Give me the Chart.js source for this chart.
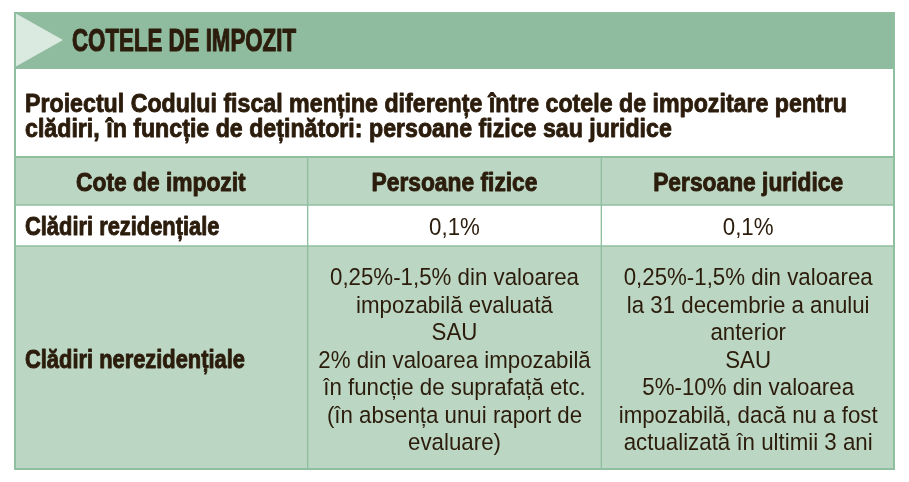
<!DOCTYPE html>
<html>
<head>
<meta charset="utf-8">
<script src="https://cdn.jsdelivr.net/npm/chart.js@4.4.1/dist/chart.umd.min.js"></script>
<style>
html,body{margin:0;padding:0;background:#ffffff;}
#wrap{width:909px;height:482px;position:relative;}
</style>
</head>
<body>
<div id="wrap"><canvas id="c" width="909" height="482"></canvas></div>
<script>
// ---- data ----
const title = 'COTELE DE IMPOZIT';
const subtitleLines = [
  'Proiectul Codului fiscal menține diferențe între cotele de impozitare pentru',
  'clădiri, în funcție de deținători: persoane fizice sau juridice'
];
const columns = ['Cote de impozit', 'Persoane fizice', 'Persoane juridice'];
const rowLabels = ['Clădiri rezidențiale', 'Clădiri nerezidențiale'];
const residentialRates = ['0,1%', '0,1%'];
const nonResidentialFizice = [
  '0,25%-1,5% din valoarea',
  'impozabilă evaluată',
  'SAU',
  '2% din valoarea impozabilă',
  'în funcție de suprafață etc.',
  '(în absența unui raport de',
  'evaluare)'
];
const nonResidentialJuridice = [
  '0,25%-1,5% din valoarea',
  'la 31 decembrie a anului',
  'anterior',
  'SAU',
  '5%-10% din valoarea',
  'impozabilă, dacă nu a fost',
  'actualizată în ultimii 3 ani'
];

// ---- layout / style ----
const ROW_SPAN = [48, 41, 224];           // table row extents (y-scale units)
const C_BAND = '#8fbb9f';
const C_LIGHT = '#bbd6c2';
const C_LINE = '#8fbf9f';
const C_TRI = '#dbeae1';
const C_TEXT = '#2b1c0c';
const FAM = "'Liberation Sans','Arimo','Helvetica',Arial,sans-serif";
const LINE_H = 27.5;
const BASE_OFF = 9.5;

const ctxMeasure = document.createElement('canvas').getContext('2d');
function scaleFor(font, ref, target) {
  ctxMeasure.font = font;
  return target / ctxMeasure.measureText(ref).width;
}
const STY = {
  title:  {font: 'bold 31px ' + FAM, stroke: 1.1},
  sub:    {font: 'bold 26.5px ' + FAM, stroke: 0.9},
  head:   {font: 'bold 25px ' + FAM, stroke: 0.9},
  label:  {font: 'bold 25px ' + FAM, stroke: 0.9},
  body:   {font: '24.5px ' + FAM, stroke: 0}
};
STY.title.sx = scaleFor(STY.title.font, title, 224);
STY.sub.sx = scaleFor(STY.sub.font, subtitleLines[0], 822);
STY.head.sx = scaleFor(STY.head.font, columns[2], 190);
STY.label.sx = scaleFor(STY.label.font, rowLabels[1], 220);
STY.body.sx = scaleFor(STY.body.font, nonResidentialJuridice[0], 249);

function drawText(ctx, str, x, y, sty, align) {
  ctx.save();
  ctx.font = sty.font;
  ctx.fillStyle = C_TEXT;
  const w = ctx.measureText(str).width * sty.sx;
  const x0 = align === 'center' ? x - w / 2 : x;
  ctx.translate(x0, y);
  ctx.scale(sty.sx, 1);
  ctx.textAlign = 'left';
  ctx.textBaseline = 'alphabetic';
  ctx.fillText(str, 0, 0);
  if (sty.stroke) {
    ctx.strokeStyle = C_TEXT;
    ctx.lineWidth = sty.stroke;
    ctx.lineJoin = 'round';
    ctx.strokeText(str, 0, 0);
  }
  ctx.restore();
}

const cellText = [
  columns.map(c => [c]),
  [[rowLabels[0]], [residentialRates[0]], [residentialRates[1]]],
  [[rowLabels[1]], nonResidentialFizice, nonResidentialJuridice]
];
const rowFill = [C_LIGHT, '#ffffff', C_LIGHT];

const tablePlugin = {
  id: 'tablePlugin',
  beforeDatasetsDraw(chart) {
    const ctx = chart.ctx;
    const a = chart.chartArea;
    const top = 12;
    ctx.save();
    ctx.fillStyle = C_BAND;
    ctx.fillRect(a.left, top, a.right - a.left, 57);
    ctx.fillStyle = C_TRI;
    ctx.beginPath();
    ctx.moveTo(a.left + 1, top + 1);
    ctx.lineTo(a.left + 49, top + 28);
    ctx.lineTo(a.left + 1, top + 55);
    ctx.closePath();
    ctx.fill();
    ctx.fillStyle = '#ffffff';
    ctx.fillRect(a.left, top + 57, a.right - a.left, a.top - top - 57);
    ctx.restore();
  },
  afterDatasetsDraw(chart) {
    const ctx = chart.ctx;
    const a = chart.chartArea;
    drawText(ctx, title, 72, 50.5, STY.title, 'left');
    subtitleLines.forEach((s, i) => drawText(ctx, s, a.left + 11, 112 + i * 25, STY.sub, 'left'));
    chart.data.datasets.forEach((ds, r) => {
      const meta = chart.getDatasetMeta(r);
      meta.data.forEach((bar, c) => {
        const p = bar.getProps(['x', 'y', 'base', 'width'], true);
        const cy = (p.y + p.base) / 2;
        const left = p.x - p.width / 2;
        const lines = cellText[r][c];
        const isLabel = c === 0 && r > 0;
        const sty = r === 0 ? STY.head : (isLabel ? STY.label : STY.body);
        const n = lines.length;
        lines.forEach((ln, k) => {
          const y = cy + (k - (n - 1) / 2) * LINE_H + BASE_OFF;
          if (isLabel) drawText(ctx, ln, left + 11, y, sty, 'left');
          else drawText(ctx, ln, p.x, y, sty, 'center');
        });
      });
    });
    ctx.save();
    ctx.strokeStyle = C_LINE;
    ctx.lineWidth = 2;
    ctx.strokeRect(a.left + 1, 13, a.right - a.left - 2, a.bottom - 14);
    ctx.beginPath();
    ctx.moveTo(a.left, a.top);
    ctx.lineTo(a.right, a.top);
    ctx.stroke();
    ctx.restore();
  }
};

new Chart(document.getElementById('c'), {
  type: 'bar',
  data: {
    labels: columns,
    datasets: ROW_SPAN.map((h, r) => ({
      label: 'row' + r,
      data: columns.map(() => h),
      backgroundColor: rowFill[r],
      borderColor: C_LINE,
      borderWidth: 1,
      borderSkipped: false,
      barPercentage: 1,
      categoryPercentage: 1
    }))
  },
  options: {
    responsive: false,
    animation: false,
    layout: {padding: {left: 14, right: 14, top: 157, bottom: 12}},
    plugins: {legend: {display: false}, tooltip: {enabled: false}, title: {display: false}},
    scales: {
      x: {type: 'category', stacked: true, display: false, offset: true},
      y: {type: 'linear', stacked: true, display: false, reverse: true, min: 0,
          max: ROW_SPAN.reduce((s, v) => s + v, 0)}
    }
  },
  plugins: [tablePlugin]
});
</script>
</body>
</html>
